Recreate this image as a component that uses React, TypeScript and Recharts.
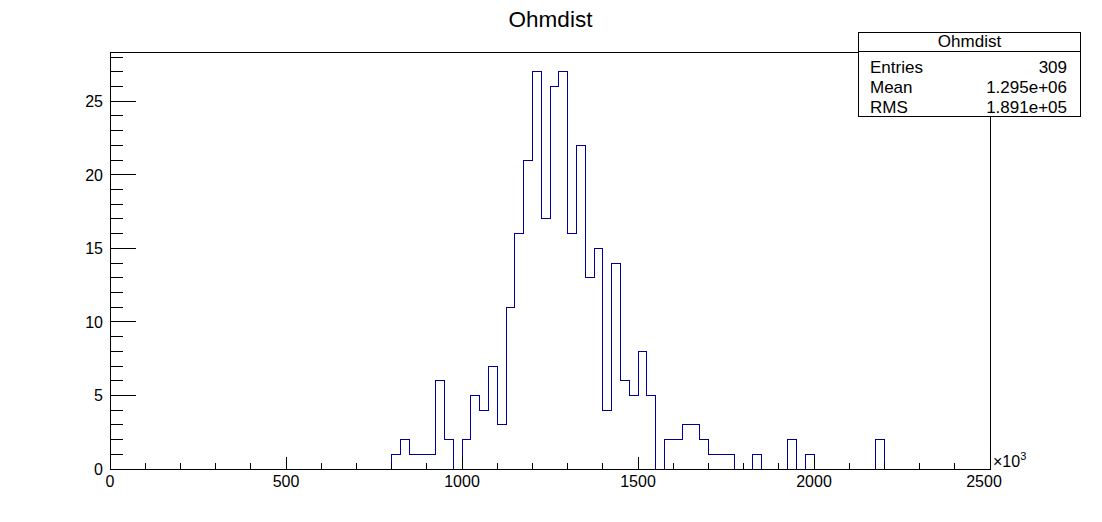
import { LineChart, Line, XAxis, YAxis, ReferenceArea } from 'recharts';

const FONT = '"Liberation Sans", Arial, Helvetica, sans-serif';
const WIDTH = 1102;
const HEIGHT = 522;
const PLOT = { left: 110, right: 990, top: 52, bottom: 469 };

// histogram: 100 bins of 25 (x10^3) from 0 to 2500
const binWidth = 25;
const counts = [
  0, 0, 0, 0, 0, 0, 0, 0, 0, 0, 0, 0, 0, 0, 0, 0,
  0, 0, 0, 0, 0, 0, 0, 0, 0, 0, 0, 0, 0, 0, 0, 0,
  1, 2, 1, 1, 1, 6, 2, 0, 2, 5, 4, 7, 3, 11, 16, 21,
  27, 17, 26, 27, 16, 22, 13, 15, 4, 14, 6, 5, 8, 5, 0, 2,
  2, 3, 3, 2, 1, 1, 1, 0, 0, 1, 0, 0, 0, 2, 0, 1,
  0, 0, 0, 0, 0, 0, 0, 2, 0, 0, 0, 0, 0, 0, 0, 0,
  0, 0, 0, 0,
];
const yMax = 28.35;

const xTicks = [
  0, 100, 200, 300, 400, 500, 600, 700, 800, 900, 1000, 1100, 1200,
  1300, 1400, 1500, 1600, 1700, 1800, 1900, 2000, 2100, 2200, 2300, 2400, 2500,
];
const xLabels = [0, 500, 1000, 1500, 2000, 2500];
const yTicks = [
  0, 1, 2, 3, 4, 5, 6, 7, 8, 9, 10, 11, 12, 13, 14,
  15, 16, 17, 18, 19, 20, 21, 22, 23, 24, 25, 26, 27, 28,
];
const yLabels = [0, 5, 10, 15, 20, 25];

const title = 'Ohmdist';
const statsRows = [
  ['Entries', '309'],
  ['Mean', '1.295e+06'],
  ['RMS', '1.891e+05'],
];

const data = counts.map((c, i) => ({ x: i * binWidth, y: c }));
data.push({ x: counts.length * binWidth, y: counts[counts.length - 1] });

function XTick(props: any) {
  const { x, payload } = props;
  const v = payload.value;
  const major = xLabels.includes(v);
  return (
    <g>
      <line x1={x} x2={x} y1={PLOT.bottom} y2={PLOT.bottom - (major ? 12 : 6)} stroke="#000" />
      {major && (
        <text x={v === 2500 ? x - 6 : x} y={487} textAnchor="middle" fontSize={16} fontFamily={FONT} fill="#000">
          {v}
        </text>
      )}
    </g>
  );
}

function YTick(props: any) {
  const { y, payload } = props;
  const v = payload.value;
  const major = yLabels.includes(v);
  return (
    <g>
      <line x1={PLOT.left} x2={PLOT.left + (major ? 26 : 13)} y1={y} y2={y} stroke="#000" />
      {major && (
        <text x={PLOT.left - 7} y={y + 6} textAnchor="end" fontSize={16} fontFamily={FONT} fill="#000">
          {v}
        </text>
      )}
    </g>
  );
}

export default function App() {
  const box = { x: 858.5, y: 32.5, w: 222, h: 84 };
  return (
    <div style={{ position: 'absolute', left: 0, top: 0, width: WIDTH, height: HEIGHT, background: '#fff' }}>
      <style>{'svg line, svg path, svg rect { shape-rendering: crispEdges; }'}</style>
      <LineChart
        width={WIDTH}
        height={HEIGHT}
        data={data}
        margin={{ top: PLOT.top, right: WIDTH - PLOT.right, bottom: 23, left: 50 }}
      >
        <XAxis
          dataKey="x"
          type="number"
          domain={[0, 2500]}
          ticks={xTicks}
          interval={0}
          tick={(p: any) => <XTick {...p} />}
          tickLine={false}
          axisLine={false}
          height={30}
          allowDataOverflow
        />
        <YAxis
          type="number"
          domain={[0, yMax]}
          ticks={yTicks}
          interval={0}
          tick={(p: any) => <YTick {...p} />}
          tickLine={false}
          axisLine={false}
          width={60}
          allowDataOverflow
        />
        <Line
          dataKey="y"
          type="stepAfter"
          stroke="#00009c"
          strokeWidth={1}
          dot={false}
          isAnimationActive={false}
        />
        <ReferenceArea x1={0} x2={2500} y1={0} y2={yMax} fill="none" fillOpacity={0} stroke="#000" strokeOpacity={1} />
      </LineChart>
      <svg
        width={WIDTH}
        height={HEIGHT}
        style={{ position: 'absolute', left: 0, top: 0, pointerEvents: 'none' }}
      >
        <text x={550.5} y={27} textAnchor="middle" fontSize={22.5} fontFamily={FONT} fill="#000">
          {title}
        </text>
        <text x={993} y={467} fontSize={16} fontFamily={FONT} fill="#000">
          ×10
          <tspan fontSize={11} dy={-7}>3</tspan>
        </text>
        <rect x={box.x} y={box.y} width={box.w} height={box.h} fill="#fff" stroke="#000" />
        <line x1={box.x} x2={box.x + box.w} y1={51.5} y2={51.5} stroke="#000" />
        <text x={box.x + box.w / 2} y={46.5} textAnchor="middle" fontSize={17} fontFamily={FONT} fill="#000">
          {title}
        </text>
        {statsRows.map(([k, v], i) => (
          <g key={k}>
            <text x={870} y={73 + i * 20} fontSize={17} fontFamily={FONT} fill="#000">{k}</text>
            <text x={1067} y={73 + i * 20} textAnchor="end" fontSize={17} fontFamily={FONT} fill="#000">{v}</text>
          </g>
        ))}
      </svg>
    </div>
  );
}
